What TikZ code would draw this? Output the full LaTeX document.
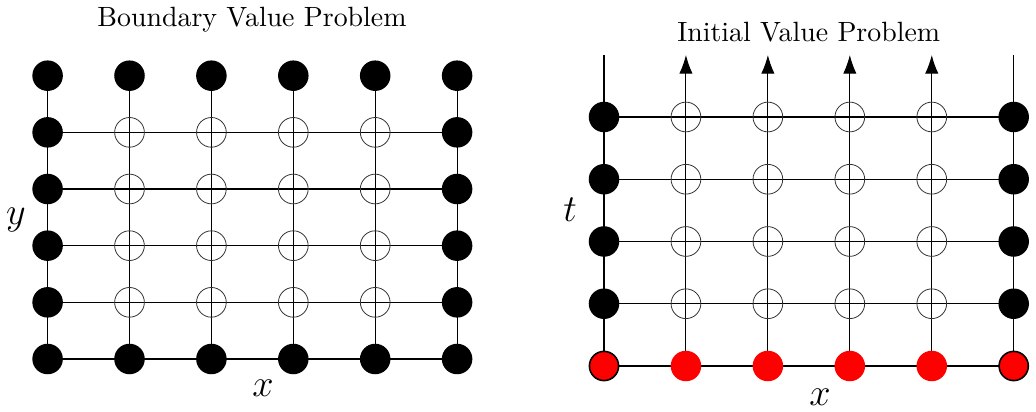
\documentclass[tikz,border=0pt]{standalone}
\usepackage{tikz}
\usetikzlibrary{arrows.meta,backgrounds}
\tikzset{
  bnode/.style={circle, fill=black, inner sep=0pt, minimum size=11.5pt},
  inode/.style={circle, draw=black!80, line width=0.3pt, inner sep=0pt, minimum size=11.2pt},
  rnode/.style={circle, fill=red, inner sep=0pt, minimum size=11.5pt},
  rbnode/.style={rnode, draw=black, line width=0.6pt, minimum size=11pt},
  gridline/.style={line width=0.4pt},
  title/.style={font=\fontsize{10.5}{12}\selectfont},
  axis/.style={font=\Large},
}

\begin{document}
\begin{tikzpicture}[x=0.01325cm, y=-0.01325cm]
\useasboundingbox (0,0) rectangle (1036,412);

% boundary value problem
\foreach \c in {0,...,5}
  \foreach \r in {0,...,5}{
    \pgfmathsetmacro\px{47.6+81.9*\c}
    \pgfmathsetmacro\py{359-56.66*\r}
    \pgfmathtruncatemacro\isb{(\c==0||\c==5||\r==0||\r==5)}
    \ifnum\isb=1 \def\sty{bnode}\else\def\sty{inode}\fi
    \node[\sty] (L-\c-\r) at (\px,\py) {};
  }
\begin{scope}[on background layer]
  \foreach \c in {0,...,5} \draw[gridline] (L-\c-0.center) -- (L-\c-5.center);
  \foreach \r in {0,...,4} \draw[gridline] (L-0-\r.center) -- (L-5-\r.center);
\end{scope}
\node[title] (bvp) at (252,20) {Boundary Value Problem};
\node[axis] (lx) at (263,388) {$x$};
\node[axis] (ly) at (16,220) {$y$};

% initial value problem
\foreach \c in {0,...,5}{
  \pgfmathsetmacro\px{604+81.94*\c}
  \coordinate (R-\c-top) at (\px,55);
  \foreach \r in {0,...,4}{
    \pgfmathsetmacro\py{366-62.25*\r}
    \pgfmathtruncatemacro\isr{(\r==0)}
    \pgfmathtruncatemacro\isc{(\c==0||\c==5)}
    \ifnum\isr=1
      \ifnum\isc=1 \def\sty{rbnode}\else\def\sty{rnode}\fi
    \else
      \ifnum\isc=1 \def\sty{bnode}\else\def\sty{inode}\fi
    \fi
    \node[\sty] (R-\c-\r) at (\px,\py) {};
  }
}
\begin{scope}[on background layer]
  \foreach \c in {0,5} \draw[gridline] (R-\c-0.center) -- (R-\c-top);
  \foreach \c in {1,...,4}
    \draw[gridline, -{Latex[length=7pt,width=5pt]}] (R-\c-0.center) -- (R-\c-top);
  \foreach \r in {0,...,4} \draw[gridline] (R-0-\r.center) -- (R-5-\r.center);
\end{scope}
\node[title] (ivp) at (808.7,32) {Initial Value Problem};
\node[axis] (rx) at (820,397) {$x$};
\node[axis] (rt) at (570,210) {$t$};
\end{tikzpicture}
\end{document}
